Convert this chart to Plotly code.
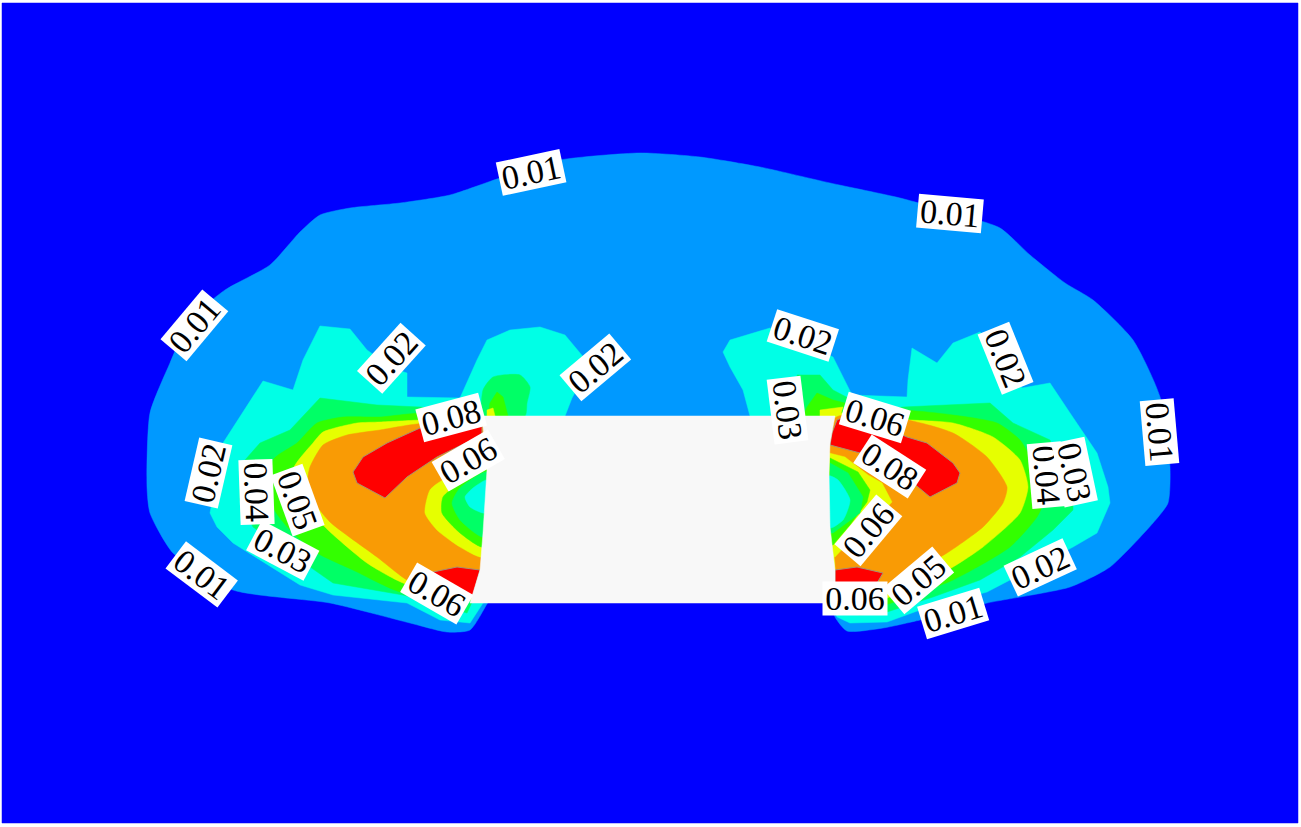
import plotly.graph_objects as go

BLUE = "#0000ff"
SKY = "#0099ff"
CYAN = "#00ffe6"
GREEN = "#00ff66"
LIME = "#33ff00"
YELLOW = "#e6ff00"
ORANGE = "#f99b05"
RED = "#ff0000"
BOX = "#f8f8f8"
EDGE = "#a89070"

field = [(2, 3), (1298, 3), (1298, 823), (2, 823)]

sky = [(640,153),(700,157),(760,167),(830,183),(900,198),(950,212),(1000,228),(1030,255),(1065,283),(1093,300),
       (1133,340),(1160,397),(1170,467),(1168,503),(1153,523),(1110,567),(1070,587),(987,603),(920,620),(883,628),
       (847,631),(835,617),(830,600),(490,600),(487,604),(470,630),(447,632),(410,623),(330,603),(233,590),(173,553),
       (150,513),(147,487),(150,413),(170,363),(190,320),(225,290),(270,265),(300,232),(320,215),(350,208),(400,203),
       (450,195),(500,178),(560,160)]
cyan_l = [(217,527),(210,513),(223,443),(240,417),(263,381),(293,390),(303,360),(320,326),(350,329),(367,350),
          (392,368),(407,373),(407,397),(460,398),(477,360),(487,340),(510,330),(540,327),(565,335),(590,365),
          (572,398),(565,416),(490,416),(490,600),(483,603),(470,623),(440,620),(407,603),(333,595),(300,585),(233,543)]
cyan_r = [(723,352),(730,340),(770,328),(833,357),(852,395),(907,397),(908,380),(912,348),(937,363),(953,343),
          (980,332),(1005,360),(1022,388),(1050,383),(1070,413),(1097,453),(1108,487),(1110,503),(1097,533),
          (1073,547),(1010,580),(987,592),(920,610),(887,622),(850,623),(837,617),(832,603),(830,416),(750,416),(743,390),(730,367)]
green_l = [(240,487),(245,460),(260,443),(290,430),(320,398),(377,405),(420,407),(480,416),(490,600),(473,600),(467,613),
           (403,595),(333,583),(310,567),(253,527),(240,500)]
green_r = [(903,407),(990,403),(1013,423),(1050,440),(1073,500),(1073,510),(1053,530),(1020,557),(980,580),(933,597),
           (887,612),(860,615),(843,612),(832,600),(832,416)]
green_tl = [(483,390),(493,377),(520,375),(530,387),(527,403),(525,416),(483,416)]
green_tr = [(797,375),(820,375),(833,390),(852,400),(843,416),(803,416)]
lime_l = [(273,460),(297,443),(317,423),(343,417),(380,417),(420,413),(480,416),(480,600),(470,600),(400,592),
          (353,570),(317,553),(290,530),(273,507)]
lime_r = [(900,410),(953,415),(997,423),(1020,440),(1035,467),(1043,503),(1037,517),(1010,547),(953,580),(900,600),
          (880,606),(832,600),(832,416)]
lime_tl = [(490,403),(497,392),(503,397),(508,416),(488,416)]
lime_tr = [(807,407),(817,393),(833,400),(845,403),(840,416),(803,416)]
yellow_l = [(293,470),(313,443),(323,432),(357,423),(380,422),(420,420),(480,417),(480,600),(470,600),(403,583),(367,563),(328,530),(310,510)]
yellow_r = [(910,420),(953,423),(993,437),(1020,460),(1028,487),(1020,513),(983,547),(953,567),(907,590),(880,600),
            (832,600),(832,416)]
yellow_tl = [(487,410),(493,408),(495,416),(487,416)]
yellow_tr = [(820,410),(843,407),(840,416),(820,416)]
orange_l = [(308,477),(310,467),(323,445),(347,435),(380,430),(417,424),(482,423),(482,595),(440,592),(407,580),(377,557),(330,522),(313,500)]
orange_r = [(835,418),(907,420),(953,433),(987,457),(1007,487),(1003,503),(983,527),(947,553),(907,575),(883,587),(840,590),(835,560)]
red_ul = [(353,472),(363,457),(387,443),(420,428),(482,425),(482,435),(437,457),(407,477),(385,498),(357,483)]
red_ll = [(433,572),(457,567),(480,570),(473,595),(450,590)]
red_ur = [(832,433),(837,420),(853,413),(907,437),(927,443),(953,463),(960,473),(957,483),(930,497),(918,487),(887,463),(860,453),(830,445)]
red_lr = [(835,570),(857,567),(883,573),(877,583),(835,583)]
pocket_yellow_l = [(483,557),(460,547),(437,530),(425,513),(430,490),(443,480),(487,470)]
pocket_lime_l = [(483,547),(460,533),(442,513),(443,497),(460,483),(487,470)]
pocket_green_l = [(483,537),(460,520),(452,503),(460,488),(487,472)]
pocket_cyan_l = [(485,513),(470,507),(465,497),(473,488),(487,480)]
pocket_yellow_r = [(829,453),(845,457),(868,475),(882,483),(892,502),(880,515),(860,530),(835,557),(829,557)]
pocket_lime_r = [(830,458),(858,472),(870,490),(867,502),(850,525),(833,545),(829,545)]
pocket_green_r = [(830,463),(848,473),(863,497),(860,513),(833,533),(829,533)]
pocket_cyan_r = [(829,476),(838,480),(850,500),(843,520),(830,528)]
box = [(482,416),(835,416),(830,443),(829,473),(830,527),(835,570),(835,603),(470,603),(473,593),(480,570),(483,533),(487,470)]

# (vertices, fill colour, outline colour, smoothed)
layers = [
    (field, BLUE, BLUE, False), (sky, SKY, SKY, True), (cyan_l, CYAN, CYAN, False), (cyan_r, CYAN, CYAN, False),
    (green_l, GREEN, GREEN, False), (green_r, GREEN, GREEN, False), (green_tl, GREEN, GREEN, True), (green_tr, GREEN, GREEN, False),
    (lime_l, LIME, LIME, True), (lime_r, LIME, LIME, True), (lime_tl, LIME, LIME, False), (lime_tr, LIME, LIME, False),
    (yellow_l, YELLOW, YELLOW, True), (yellow_r, YELLOW, YELLOW, True), (yellow_tl, YELLOW, YELLOW, False), (yellow_tr, YELLOW, YELLOW, False),
    (orange_l, ORANGE, ORANGE, True), (orange_r, ORANGE, ORANGE, True),
    (red_ul, RED, EDGE, False), (red_ll, RED, EDGE, False), (red_ur, RED, EDGE, False), (red_lr, RED, EDGE, False),
    (pocket_yellow_l, YELLOW, YELLOW, True), (pocket_lime_l, LIME, LIME, True), (pocket_green_l, GREEN, GREEN, True), (pocket_cyan_l, CYAN, CYAN, True),
    (pocket_yellow_r, YELLOW, YELLOW, False), (pocket_lime_r, LIME, LIME, False), (pocket_green_r, GREEN, GREEN, False), (pocket_cyan_r, CYAN, CYAN, True),
    (box, BOX, BOX, False),
]

label_text = ["0.01","0.01","0.01","0.02","0.02","0.02","0.02","0.01","0.03","0.08","0.06","0.06","0.08",
              "0.02","0.04","0.05","0.03","0.01","0.06","0.06","0.04","0.03","0.06","0.05","0.01","0.02"]
label_x = [531,950,194,391,595,803,1006,1160,788,451,875,468,890,208,257,298,283,202,437,868,1047,1075,855,918,953,1040]
label_y = [172,213,325,358,367,335,358,432,410,417,417,460,466,473,492,500,550,574,593,530,475,472,598,580,613,567]
label_angle = [-12,5,-50,-48,-40,18,68,85,83,-15,17,-30,33,-77,88,70,28,37,30,-50,85,78,0,-40,-17,-25]

fig = go.Figure()
for pts, colour, edge, smooth in layers:
    xs = [p[0] for p in pts]
    ys = [p[1] for p in pts]
    line = dict(color=edge, width=1 if edge != colour else 0.5)
    if smooth:
        line.update(shape="spline", smoothing=0.6)
    fig.add_trace(go.Scatter(x=xs + xs[:1], y=ys + ys[:1], mode="lines", fill="toself",
                             fillcolor=colour, line=line, hoverinfo="skip", showlegend=False))

for t, x, y, a in zip(label_text, label_x, label_y, label_angle):
    fig.add_annotation(x=x, y=y, text=t, textangle=a, showarrow=False, xanchor="center", yanchor="middle",
                       bgcolor="white", borderpad=0, width=64, height=33, align="center", valign="middle",
                       font=dict(family="Liberation Serif", size=34, color="black"))

fig.update_layout(width=1301, height=827, margin=dict(l=0, r=0, t=0, b=0), paper_bgcolor="white",
                  plot_bgcolor="white", showlegend=False,
                  xaxis=dict(range=[0, 1301], visible=False),
                  yaxis=dict(range=[827, 0], visible=False))

fig.write_html("out.html", config={"displayModeBar": False},
               post_script="document.body.style.margin='0';document.body.style.overflow='hidden';")
